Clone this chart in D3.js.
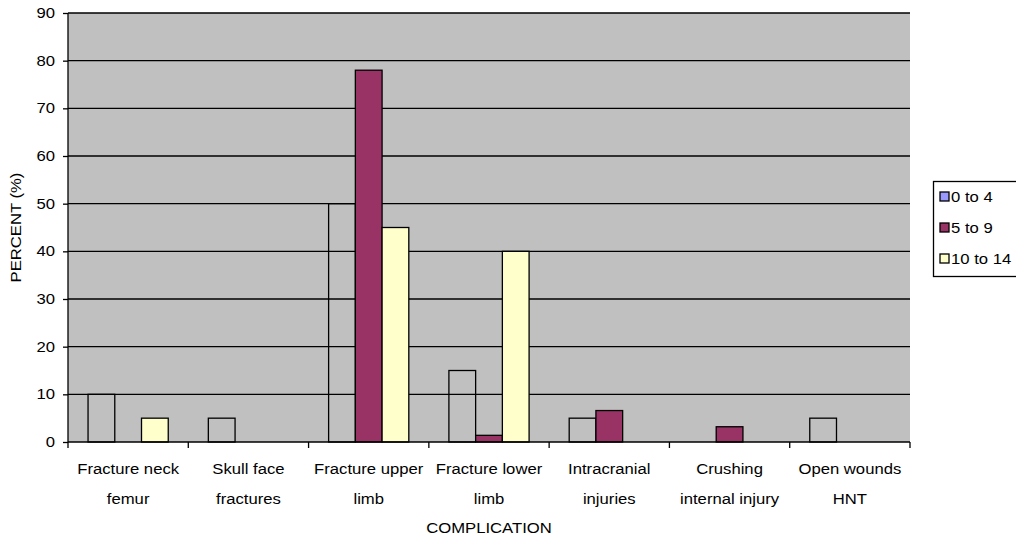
<!DOCTYPE html>
<html><head><meta charset="utf-8">
<script src="https://cdn.jsdelivr.net/npm/d3@7"></script>
<style>body{margin:0;background:#fff}svg{display:block}text{font-family:"Liberation Sans",Arial,sans-serif;fill:#000}</style>
</head><body><svg id="c" width="1016" height="538"></svg>
<script>
const categories = [["Fracture neck","femur"],["Skull face","fractures"],["Fracture upper","limb"],["Fracture lower","limb"],["Intracranial","injuries"],["Crushing","internal injury"],["Open wounds","HNT"]];
const seriesNames = ["0 to 4","5 to 9","10 to 14"];
const s0to4 = [10,5,50,15,5,0,5];
const s5to9 = [0,0,78,1.4,6.6,3.2,0];
const s10to14 = [5,0,45,40,0,0,0];
const yTicks = [0,10,20,30,40,50,60,70,80,90];
const seriesData = [s0to4,s5to9,s10to14];
const barFill = ["none","#993366","#FFFFCC"];
const legendFill = ["#9999FF","#993366","#FFFFCC"];

const FS = 14.5, SX = 1.15;
const svg = d3.select("#c");
const L=68,R=910,T=13,B=442;
const x = d3.scaleBand().domain(d3.range(categories.length)).range([L,R]).paddingInner(0).paddingOuter(0);
const y = d3.scaleLinear().domain([0,90]).range([B,T]);
const bw = x.bandwidth()/4.5;
const xs = d3.scaleBand().domain(d3.range(3)).range([0,bw*3]);

function label(parent, tx, ty, str, anchor, rot){
  return parent.append("text")
    .attr("transform",`translate(${tx},${ty})${rot?` rotate(${rot})`:""} scale(${SX},1)`)
    .attr("text-anchor",anchor||"start").attr("font-size",FS).text(str);
}

svg.append("rect").attr("x",L).attr("y",T).attr("width",R-L).attr("height",B-T).attr("fill","#C0C0C0");
svg.append("g").selectAll("line").data(yTicks.filter(d=>d>0)).join("line")
  .attr("x1",L).attr("x2",R).attr("y1",d=>y(d)).attr("y2",d=>y(d)).attr("stroke","#000").attr("stroke-width",1.3);

const g = svg.append("g");
seriesData.forEach((vals,si)=>{
  g.selectAll(".b"+si).data(vals.map((v,i)=>({v,i})).filter(d=>d.v>0)).join("rect")
   .attr("x",d=>x(d.i)+bw*0.75+xs(si)).attr("width",bw)
   .attr("y",d=>y(d.v)).attr("height",d=>B-y(d.v))
   .attr("fill",barFill[si]).attr("stroke","#000").attr("stroke-width",1.3);
});

// y axis
const ya = svg.append("g").attr("transform",`translate(${L},0)`).call(d3.axisLeft(y).tickValues(yTicks).tickSize(5).tickPadding(4));
ya.select(".domain").attr("stroke","#000").attr("stroke-width",1.3).attr("d",`M0,${T}V${B}`);
ya.selectAll(".tick line").attr("stroke-width",1.3);
ya.selectAll(".tick text").remove();
yTicks.forEach(t=>label(svg, L-13, y(t)+5, String(t), "end"));

// x axis
svg.append("line").attr("x1",L).attr("x2",R).attr("y1",B).attr("y2",B).attr("stroke","#000").attr("stroke-width",1.3);
const xb = d3.range(categories.length+1).map(i=> i<categories.length? x(i): R);
svg.append("g").selectAll("line").data(xb).join("line")
  .attr("x1",d=>d).attr("x2",d=>d).attr("y1",B).attr("y2",B+6).attr("stroke","#000").attr("stroke-width",1.3);
const xg = svg.append("g");
categories.forEach((c,i)=>{
  c.forEach((line,j)=>label(xg, x(i)+x.bandwidth()/2, 474+j*30, line, "middle"));
});

label(svg,(L+R)/2,533,"COMPLICATION","middle");
label(svg,21,(T+B)/2,"PERCENT (%)","middle",-90);

// legend
const lg = svg.append("g");
lg.append("rect").attr("x",933.5).attr("y",181.5).attr("width",84).attr("height",95).attr("fill","#fff").attr("stroke","#000").attr("stroke-width",1.3);
seriesNames.forEach((n,i)=>{
  const cy = 197+i*31;
  lg.append("rect").attr("x",940).attr("y",cy-5).attr("width",9).attr("height",9).attr("fill",legendFill[i]).attr("stroke","#000").attr("stroke-width",1.3);
  label(lg, 951, cy+5, n, "start");
});
</script></body></html>
